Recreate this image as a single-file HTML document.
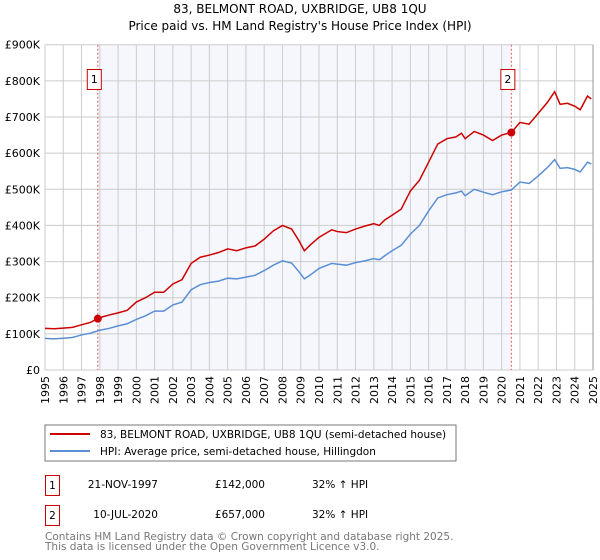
<!DOCTYPE html>
<html><head><meta charset="utf-8"><style>
body{margin:0;background:#fff;}
svg{display:block;font-family:"DejaVu Sans","Liberation Sans",sans-serif;}
</style></head><body>
<svg id="chart" width="600" height="560" viewBox="0 0 600 560">
<text x="300" y="13" text-anchor="middle" font-size="12" fill="#000">83, BELMONT ROAD, UXBRIDGE, UB8 1QU</text>
<text x="300" y="30" text-anchor="middle" font-size="12" fill="#000">Price paid vs. HM Land Registry's House Price Index (HPI)</text>
<g id="plot"></g>
<rect x="45" y="425" width="411" height="36" fill="#fff" stroke="#777"/>
<line x1="50" y1="434" x2="90" y2="434" stroke="#cc0000" stroke-width="2"/>
<text x="100" y="438" font-size="10.5">83, BELMONT ROAD, UXBRIDGE, UB8 1QU (semi-detached house)</text>
<line x1="50" y1="451" x2="90" y2="451" stroke="#5b8fd4" stroke-width="2"/>
<text x="100" y="455" font-size="10.5">HPI: Average price, semi-detached house, Hillingdon</text>
<g>
<rect x="45.5" y="475.5" width="14" height="20" fill="none" stroke="#cc0000"/>
<text x="52.5" y="489" font-size="10.5" text-anchor="middle">1</text>
<text x="158" y="488" font-size="10.5" text-anchor="end">21-NOV-1997</text>
<text x="265" y="488" font-size="10.5" text-anchor="end">£142,000</text>
<text x="312" y="488" font-size="10.5">32% ↑ HPI</text>
</g>
<g>
<rect x="45.5" y="505.5" width="14" height="20" fill="none" stroke="#cc0000"/>
<text x="52.5" y="519" font-size="10.5" text-anchor="middle">2</text>
<text x="158" y="518" font-size="10.5" text-anchor="end">10-JUL-2020</text>
<text x="265" y="518" font-size="10.5" text-anchor="end">£657,000</text>
<text x="312" y="518" font-size="10.5">32% ↑ HPI</text>
</g>
<text x="45" y="540" font-size="10.5" fill="#777">Contains HM Land Registry data © Crown copyright and database right 2025.</text>
<text x="45" y="550" font-size="10.5" fill="#777">This data is licensed under the Open Government Licence v3.0.</text>
</svg>
<script>
const yearTicks=[1995,1996,1997,1998,1999,2000,2001,2002,2003,2004,2005,2006,2007,2008,2009,2010,2011,2012,2013,2014,2015,2016,2017,2018,2019,2020,2021,2022,2023,2024,2025];
const valueTicks=[0,100000,200000,300000,400000,500000,600000,700000,800000,900000];
const valueTickLabels=["£0","£100K","£200K","£300K","£400K","£500K","£600K","£700K","£800K","£900K"];
const hpiDates=[1995,1995.5,1996,1996.5,1997,1997.5,1998,1998.5,1999,1999.5,2000,2000.5,2001,2001.5,2002,2002.5,2003,2003.5,2004,2004.5,2005,2005.5,2006,2006.5,2007,2007.5,2008,2008.5,2008.9,2009.2,2009.5,2010,2010.7,2011,2011.5,2012,2012.5,2013,2013.3,2013.6,2014,2014.5,2015,2015.5,2016,2016.5,2017,2017.5,2017.8,2018,2018.5,2019,2019.5,2020,2020.53,2021,2021.5,2022,2022.5,2022.9,2023.2,2023.6,2024,2024.3,2024.7,2024.9];
const hpiValues=[87500,86000,88000,90000,97000,102000,110000,115000,122000,128000,140000,150000,163000,163000,180000,188000,222000,236000,242000,246000,254000,252000,257000,262000,275000,290000,302000,296000,272000,252000,262000,281000,295000,293000,290000,297000,302000,308000,305000,316000,330000,345000,376000,400000,440000,476000,485000,490000,495000,482000,500000,492000,485000,493000,498000,520000,516000,537000,560000,582000,558000,560000,555000,548000,575000,570000];
const priceDates=hpiDates;
const priceValues=[115000,114000,116000,118000,125000,132000,145000,152000,158000,165000,188000,200000,215000,215000,238000,250000,295000,312000,318000,325000,335000,330000,338000,343000,362000,385000,400000,390000,358000,330000,345000,367000,388000,383000,380000,390000,398000,405000,400000,415000,428000,445000,495000,525000,575000,625000,640000,645000,655000,640000,660000,650000,635000,650000,657000,685000,680000,710000,740000,770000,735000,738000,730000,720000,758000,750000];
const saleDates=[1997.89,2020.53];
const saleValues=[142000,657000];
const saleLabels=["1","2"];

const X0=45,X1=593,Y0=370,Y1=44.7;
const xs=d=>X0+(d-1995)/(2025-1995)*(X1-X0);
const ys=v=>Y0-v/900000*(Y0-Y1);
const NS="http://www.w3.org/2000/svg";
const plot=document.getElementById('plot');
function mk(tag,attrs,parent){const e=document.createElementNS(NS,tag);for(const k in attrs)e.setAttribute(k,attrs[k]);(parent||plot).appendChild(e);return e;}

const shade=mk('rect',{x:xs(saleDates[0]),y:Y1,width:xs(saleDates[1])-xs(saleDates[0]),height:Y0-Y1,fill:'#eef2fc',opacity:0.6});


yearTicks.forEach(y=>{
  const g=mk('line',{x1:xs(y),x2:xs(y),y1:Y1,y2:Y0,stroke:'#cccccc','stroke-width':1});
  
  
  const t=mk('text',{x:0,y:0,'font-size':11,'text-anchor':'end',transform:`translate(${xs(y)+4},376) rotate(-90)`});
  t.textContent=y;
  
  
});
valueTicks.forEach((v,i)=>{
  const g=mk('line',{x1:X0,x2:X1,y1:ys(v),y2:ys(v),stroke:'#cccccc','stroke-width':1});
  
  
  const t=mk('text',{x:40,y:ys(v)+4,'font-size':11,'text-anchor':'end'});
  t.textContent=valueTickLabels[i];
  
  
});
saleDates.forEach((d,i)=>{
  const l=mk('line',{x1:xs(d),x2:xs(d),y1:Y1,y2:Y0,stroke:'#e06060','stroke-width':1,'stroke-dasharray':'2,2'});
  
  
});
const hp=mk('polyline',{points:hpiDates.map((d,i)=>xs(d)+','+ys(hpiValues[i])).join(' '),fill:'none',stroke:'#5b8fd4','stroke-width':1.5});


const pp=mk('polyline',{points:priceDates.map((d,i)=>xs(d)+','+ys(priceValues[i])).join(' '),fill:'none',stroke:'#cc0000','stroke-width':1.5});


saleDates.forEach((d,i)=>{
  const c=mk('circle',{cx:xs(d),cy:ys(saleValues[i]),r:4,fill:'#cc0000'});
  
  
  const b=mk('rect',{x:xs(d)-10.5,y:69.5,width:14,height:20,fill:'#fff',stroke:'#cc0000'});
  
  
  const t=mk('text',{x:xs(d)-3.5,y:83,'font-size':11,'text-anchor':'middle'});
  t.textContent=saleLabels[i];
  
  
});
const ax=mk('line',{x1:X1,x2:X1,y1:Y1,y2:Y0,stroke:'#999','stroke-width':1});


</script>
</body></html>
